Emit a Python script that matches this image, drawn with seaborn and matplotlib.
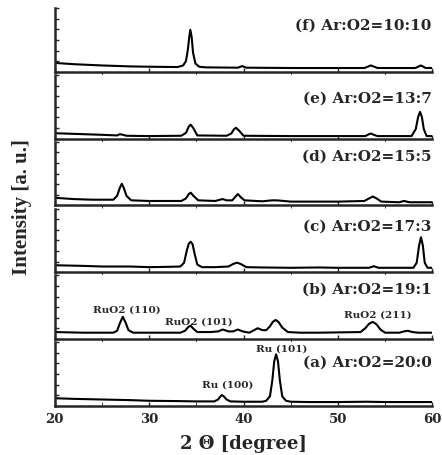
import matplotlib.pyplot as plt
import numpy as np
import pandas as pd
import seaborn as sns

# XRD traces, bottom panel (a) to top panel (f)
# y is a fraction of each panel's height
x_a = [20, 22, 25, 28, 30, 33, 35, 36.9, 37.3, 37.5, 37.7, 37.9, 38.2, 38.6, 40, 42.0, 42.4, 42.8, 43.05,
       43.25, 43.45, 43.65, 43.85, 44.1, 44.5, 45, 47, 50, 53, 55, 58, 60]
y_a = [0.12, 0.11, 0.10, 0.09, 0.08, 0.075, 0.07, 0.07, 0.10, 0.14, 0.17, 0.15, 0.10, 0.07, 0.065, 0.065, 0.08, 0.15,
       0.40, 0.70, 0.81, 0.70, 0.40, 0.15, 0.08, 0.065, 0.06, 0.06, 0.065, 0.06, 0.06, 0.06]

x_b = [20, 23, 26.2, 26.6, 26.9, 27.2, 27.5, 27.8, 28.3, 30, 33.3, 33.8, 34.15, 34.4, 34.7, 35.1, 36.5, 37.3, 37.8,
       38.4, 38.9, 39.4, 39.9, 40.6, 41.0, 41.5, 42.0, 42.4, 42.8, 43.1, 43.4, 43.7, 44.1, 44.7, 46, 48, 52.4, 52.9,
       53.3, 53.7, 54.1, 54.5, 55.0, 56.5, 57.0, 57.4, 57.9, 58.5, 60]
y_b = [0.11, 0.10, 0.10, 0.13, 0.25, 0.35, 0.26, 0.14, 0.10, 0.10, 0.10, 0.13, 0.19, 0.21, 0.16, 0.11, 0.11, 0.12, 0.15,
       0.12, 0.12, 0.15, 0.12, 0.10, 0.13, 0.17, 0.14, 0.14, 0.20, 0.27, 0.30, 0.27, 0.18, 0.11, 0.10, 0.10, 0.11, 0.17,
       0.24, 0.27, 0.23, 0.15, 0.10, 0.10, 0.12, 0.13, 0.11, 0.10, 0.10]

x_c = [20, 23, 25, 28, 30, 32, 33.3, 33.7, 34.0, 34.2, 34.4, 34.6, 34.8, 35.1, 35.6, 37, 38.4, 38.9, 39.3, 39.7, 40.3,
       42, 45, 48, 50, 53.3, 53.8, 54.3, 56, 58.0, 58.35, 58.6, 58.8, 59.0, 59.2, 59.5, 60]
y_c = [0.11, 0.10, 0.09, 0.09, 0.08, 0.085, 0.09, 0.15, 0.35, 0.45, 0.48, 0.44, 0.30, 0.12, 0.08, 0.08, 0.09, 0.13,
       0.15, 0.13, 0.08, 0.075, 0.07, 0.075, 0.07, 0.07, 0.095, 0.07, 0.07, 0.07, 0.15, 0.42, 0.55, 0.42, 0.15, 0.07, 0.07]

x_d = [20, 22, 24, 26.2, 26.6, 26.9, 27.1, 27.3, 27.6, 28.1, 30, 33.4, 33.9, 34.2, 34.4, 34.7, 35.2, 37.0, 37.5, 37.8,
       38.2, 38.8, 39.1, 39.4, 39.7, 40.1, 42, 43.0, 43.5, 44.3, 45, 50, 52.8, 53.3, 53.7, 54.1, 54.6, 56.5, 57.0, 57.6,
       60]
y_d = [0.12, 0.10, 0.09, 0.09, 0.15, 0.28, 0.34, 0.28, 0.15, 0.08, 0.07, 0.07, 0.11, 0.18, 0.20, 0.15, 0.08, 0.07,
       0.09, 0.10, 0.08, 0.08, 0.13, 0.18, 0.13, 0.08, 0.065, 0.08, 0.08, 0.07, 0.06, 0.06, 0.07, 0.11, 0.14, 0.11, 0.06,
       0.05, 0.07, 0.05, 0.05]

x_e = [20, 23, 25, 26.6, 26.9, 27.2, 27.6, 30, 33.4, 33.9, 34.2, 34.4, 34.7, 35.1, 38.2, 38.7, 39.0, 39.2, 39.5, 40.0,
       45, 52.9, 53.3, 53.5, 53.8, 54.2, 57.8, 58.25, 58.5, 58.7, 58.9, 59.1, 59.4, 60]
y_e = [0.085, 0.07, 0.06, 0.05, 0.07, 0.06, 0.045, 0.04, 0.045, 0.09, 0.19, 0.22, 0.16, 0.05, 0.045, 0.08, 0.15, 0.17,
       0.13, 0.045, 0.04, 0.04, 0.07, 0.08, 0.06, 0.04, 0.04, 0.15, 0.34, 0.42, 0.34, 0.15, 0.04, 0.04]

x_f = [20, 22, 25, 28, 30, 33.0, 33.6, 33.9, 34.1, 34.25, 34.36, 34.5, 34.65, 34.9, 35.3, 36, 39.4, 39.86, 40.3, 45,
       52.8, 53.5, 54.2, 58.2, 58.8, 59.3, 60]
y_f = [0.14, 0.12, 0.10, 0.085, 0.08, 0.075, 0.10, 0.17, 0.35, 0.55, 0.66, 0.55, 0.30, 0.13, 0.08, 0.07, 0.065, 0.09,
       0.065, 0.06, 0.06, 0.10, 0.06, 0.06, 0.10, 0.06, 0.06]

panel_labels = ["(f) Ar:O2=10:10", "(e) Ar:O2=13:7", "(d) Ar:O2=15:5",
                "(c) Ar:O2=17:3", "(b) Ar:O2=19:1", "(a) Ar:O2=20:0"]
label_y = [0.73, 0.63, 0.76, 0.71, 0.78, 0.68]

# peak names: panel (b) and panel (a)
b_peaks = ["RuO2 (110)", "RuO2 (101)", "RuO2 (211)"]
b_peak_x = [27.6, 35.3, 54.2]
b_peak_y = [0.45, 0.27, 0.38]
a_peaks = ["Ru (100)", "Ru (101)"]
a_peak_x = [38.3, 44.0]
a_peak_y = [0.32, 0.90]

traces = [(x_f, y_f), (x_e, y_e), (x_d, y_d), (x_c, y_c), (x_b, y_b), (x_a, y_a)]

sns.set_style("ticks")
plt.rcParams['font.family'] = ['DejaVu Serif']

fig, axs = plt.subplots(6, 1, sharex=True, figsize=(4.42, 4.55), dpi=100)
fig.subplots_adjust(left=0.124, right=0.978, top=0.982, bottom=0.108, hspace=0.05)

for i, ax in enumerate(axs):
    xs, ys = traces[i]
    df = pd.DataFrame({'x': xs, 'y': ys})
    sns.lineplot(data=df, x='x', y='y', ax=ax, color='black', linewidth=1.5)
    ax.set_xlim(20, 60)
    ax.set_ylim(0, 1)
    ax.set_xlabel('')
    ax.set_ylabel('')
    ax.set_yticks(np.linspace(0, 1, 7))
    ax.set_yticklabels([])
    ax.tick_params(axis='y', direction='in', length=3, width=1)
    ax.tick_params(axis='x', direction='in', length=3, width=1)
    for side in ['left', 'bottom']:
        ax.spines[side].set_linewidth(1.8)
    ax.spines['top'].set_visible(False)
    ax.spines['right'].set_visible(False)
    ax.text(0.998, label_y[i], panel_labels[i], transform=ax.transAxes,
            ha='right', va='center', fontsize=11, fontweight='bold')

for t, px, py in zip(b_peaks, b_peak_x, b_peak_y):
    axs[4].text(px, py, t, ha='center', va='center', fontsize=7.5, fontweight='semibold')
for t, px, py in zip(a_peaks, a_peak_x, a_peak_y):
    axs[5].text(px, py, t, ha='center', va='center', fontsize=7.5, fontweight='semibold')

axs[5].set_xticks([20, 30, 40, 50, 60])
axs[5].set_xticks([25, 35, 45, 55], minor=True)
axs[5].tick_params(axis='x', which='both', direction='in', length=3, pad=5)
for lab in axs[5].get_xticklabels():
    lab.set_fontweight('bold')
    lab.set_fontsize(9.5)

fig.text(0.55, 0.025, "2 Θ [degree]", ha='center', va='center', fontsize=13, fontweight='bold')
fig.text(0.05, 0.545, "Intensity [a. u.]", ha='center', va='center', rotation=90,
         fontsize=15, fontweight='bold', family='Liberation Serif')

fig.savefig('out.png', dpi=100)
